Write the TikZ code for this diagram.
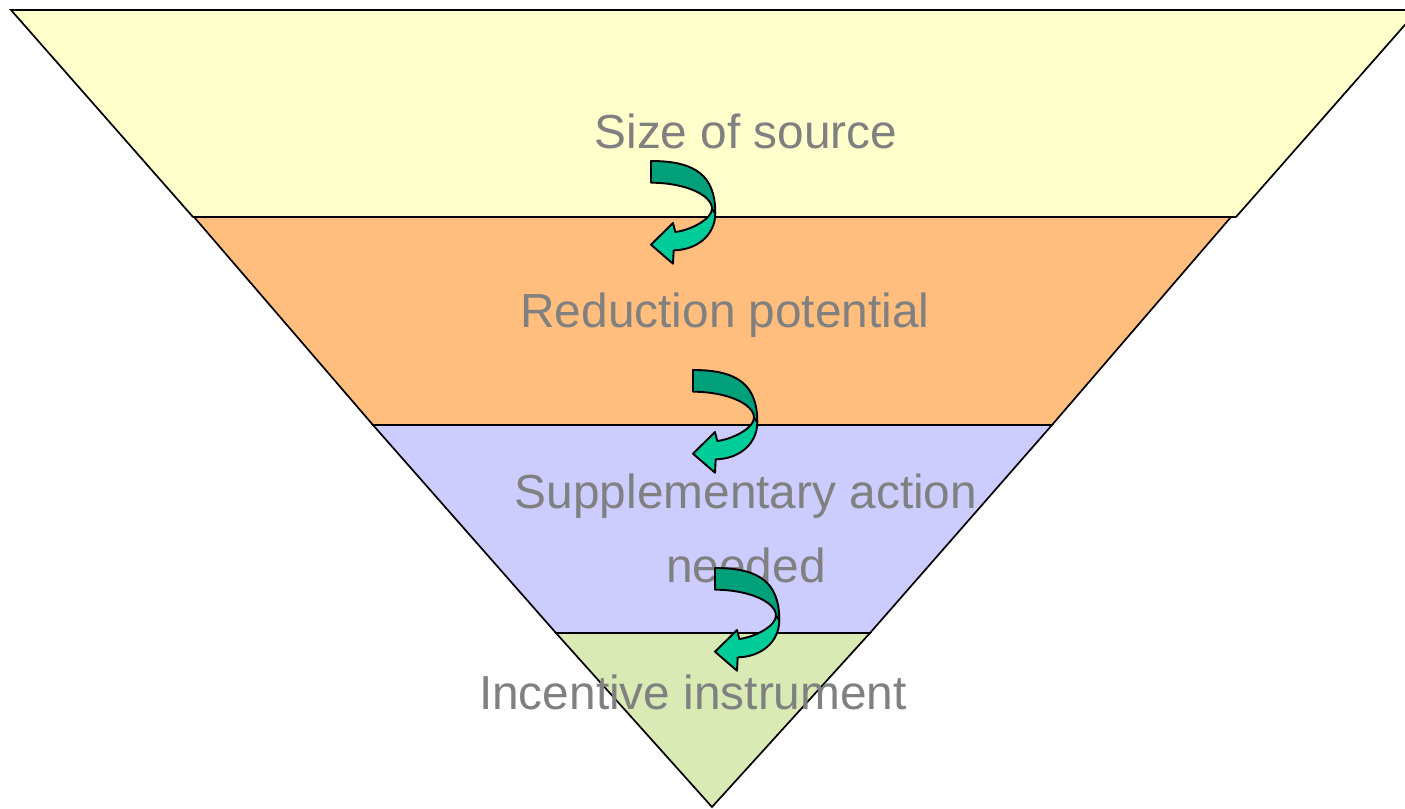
\documentclass[tikz,border=0pt]{standalone}
\usepackage{fontspec}
\setmainfont{Liberation Sans}
\definecolor{lyellow}{RGB}{255,255,204}
\definecolor{lorange}{RGB}{255,190,125}
\definecolor{llav}{RGB}{204,204,255}
\definecolor{lgreen}{RGB}{217,234,181}
\definecolor{labelgray}{RGB}{128,128,128}
\definecolor{arrdark}{RGB}{0,160,122}
\definecolor{arrlight}{RGB}{0,204,153}
\begin{document}
\begin{tikzpicture}[x=0.5pt,y=-0.5pt,
  layer/.style={draw=black,line width=0.85pt,line join=miter},
  lbl/.style={text=labelgray,font=\fontsize{23.9}{28}\selectfont,anchor=base,inner sep=0pt},
  arrpart/.style={draw=black,line width=0.95pt,line join=round},
  curvarrow/.pic={
    \filldraw[arrpart,fill=arrlight] (61,47.7) .. controls (61,58) and (40,69) .. (24.3,71) -- (22,62) -- (0,83.7) -- (22,102.7) -- (22.7,89.3) .. controls (45,89) and (64.3,75) .. (64.3,52) -- cycle;
    \filldraw[arrpart,fill=arrdark] (0,0) .. controls (45,0) and (64.3,15) .. (64.3,52) -- (61,47.7) .. controls (61,33.9) and (33.7,21.7) .. (0,21.7) -- cycle;
  }]
\useasboundingbox (0,0) rectangle (1405,809);
\filldraw[layer,fill=lyellow] (11,10) -- (1418,10) -- (1236,217) -- (193,217) -- cycle;
\filldraw[layer,fill=lorange] (194,217) -- (1231,217) -- (1052,425) -- (373,425) -- cycle;
\filldraw[layer,fill=llav] (373,425) -- (1052,425) -- (870,633) -- (556,633) -- cycle;
\filldraw[layer,fill=lgreen] (556,633) -- (870,633) -- (712,807) -- cycle;
\node[lbl] (t1) at (746,148) {Size of source};
\node[lbl] (t2) at (725,327) {Reduction potential};
\node[lbl] (t3a) at (746,508) {Supplementary action};
\node[lbl] (t3b) at (746,582) {needed};
\node[lbl] (t4) at (693,709) {Incentive instrument};
\pic at (651,161) {curvarrow};
\pic at (693,370) {curvarrow};
\pic at (715,568) {curvarrow};
\end{tikzpicture}
\end{document}
